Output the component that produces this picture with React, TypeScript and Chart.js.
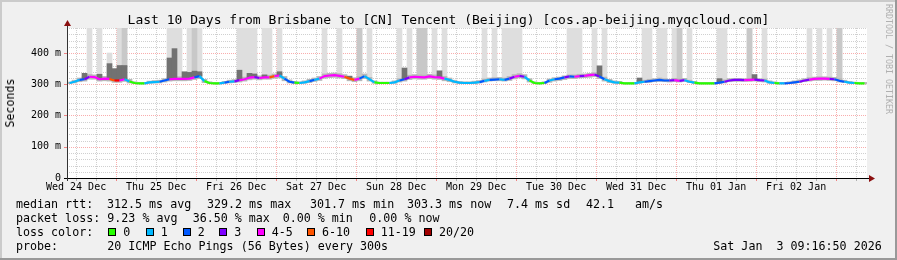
import React, { useEffect, useRef } from "react";
import { Chart, registerables } from "chart.js";

Chart.register(...registerables);

// ---------- text ----------
const TITLE = "Last 10 Days from Brisbane to [CN] Tencent (Beijing) [cos.ap-beijing.myqcloud.com]";
const Y_AXIS_TITLE = "Seconds";
const WATERMARK = "RRDTOOL / TOBI OETIKER";
const DAY_LABELS = ["Wed 24 Dec", "Thu 25 Dec", "Fri 26 Dec", "Sat 27 Dec", "Sun 28 Dec", "Mon 29 Dec", "Tue 30 Dec", "Wed 31 Dec", "Thu 01 Jan", "Fri 02 Jan"];
const Y_TICKS = [0, 100, 200, 300, 400];
const Y_TICK_LABELS = ["0", "100 m", "200 m", "300 m", "400 m"];
const RTT_TEXT = ["median rtt:", "312.5 ms avg", "329.2 ms max", "301.7 ms min", "303.3 ms now", "7.4 ms sd", "42.1", "am/s"];
const LOSS_TEXT = ["packet loss:", "9.23 % avg", "36.50 % max", "0.00 % min", "0.00 % now"];
const LOSS_COLOR_TITLE = "loss color:";
const LOSS_LABELS = ["0", "1", "2", "3", "4-5", "6-10", "11-19", "20/20"];
const LOSS_COLORS = ["#26ff00", "#00b8ff", "#0059ff", "#7e00ff", "#ff00ff", "#ff5500", "#ff0000", "#a10000"];
const PROBE_TEXT = ["probe:", "20 ICMP Echo Pings (56 Bytes) every 300s"];
const DATE_TEXT = "Sat Jan  3 09:16:50 2026";

// ---------- time axis (hours from Wed 24 Dec 09:16:50) ----------
const SPAN_HOURS = 240;
const BIN_HOURS = 1.5;
const FIRST_NOON_HOURS = 2 + 43 / 60 + 10 / 3600;
const Y_MAX = 480;
const Y_GRID_STEP = 20;

// ---------- series (ms), one value per 1.5 h bin ----------
const MEDIAN = [
  304, 308, 314, 316, 324, 323, 316, 318, 317, 312,
  312, 316, 309, 304, 303, 303, 306, 307, 308, 312,
  316, 317, 317, 317, 318, 322, 326, 310, 304, 303,
  303, 305, 308, 309, 313, 316, 321, 323, 320, 322,
  322, 326, 328, 318, 308, 305, 304, 306, 310, 314,
  318, 326, 328, 329, 327, 324, 318, 314, 318, 326,
  316, 306, 304, 304, 304, 306, 312, 316, 322, 324,
  323, 322, 325, 323, 322, 318, 314, 308, 305, 304,
  304, 305, 307, 311, 314, 315, 316, 314, 318, 324,
  327, 324, 312, 304, 303, 304, 312, 316, 318, 322,
  325, 324, 326, 327, 329, 331, 325, 316, 310, 306,
  305, 303, 303, 303, 306, 308, 310, 312, 314, 312,
  312, 313, 311, 313, 308, 305, 303, 303, 303, 303,
  305, 308, 312, 314, 314, 313, 314, 315, 313, 312,
  306, 304, 303, 303, 304, 306, 308, 312, 315, 317,
  318, 318, 317, 316, 311, 308, 305, 304, 303, 303,
];

const LOSS = [
  0, 1, 1, 2, 3, 4, 4, 4, 4, 5,
  6, 4, 1, 0, 0, 0, 1, 1, 1, 2,
  2, 4, 4, 4, 4, 4, 2, 1, 0, 0,
  0, 1, 2, 1, 3, 4, 4, 4, 3, 4,
  4, 5, 4, 1, 2, 2, 0, 1, 1, 2,
  1, 4, 4, 4, 4, 4, 5, 5, 4, 2,
  1, 1, 0, 0, 0, 1, 1, 2, 3, 4,
  4, 4, 4, 4, 4, 4, 1, 1, 1, 1,
  1, 1, 1, 2, 1, 2, 2, 1, 2, 3,
  4, 3, 1, 0, 0, 0, 2, 1, 2, 2,
  3, 2, 4, 3, 4, 4, 3, 2, 1, 1,
  1, 0, 0, 0, 1, 1, 2, 2, 2, 2,
  2, 3, 4, 3, 1, 1, 0, 0, 0, 0,
  2, 2, 3, 3, 3, 3, 4, 4, 3, 3,
  1, 1, 0, 1, 2, 2, 2, 3, 3, 4,
  4, 4, 4, 3, 2, 2, 1, 1, 0, 0,
];

const SMOKE_LOW = [
  302, 304, 308, 310, 316, 316, 310, 311, 310, 306,
  306, 309, 304, 302, 301, 301, 303, 304, 304, 307,
  310, 311, 311, 311, 312, 315, 318, 305, 302, 301,
  301, 303, 304, 305, 307, 310, 314, 316, 314, 316,
  316, 319, 320, 311, 304, 302, 302, 303, 305, 309,
  312, 319, 321, 322, 320, 318, 311, 308, 311, 318,
  310, 303, 302, 302, 302, 303, 307, 310, 315, 317,
  316, 316, 318, 316, 315, 311, 308, 304, 302, 302,
  302, 302, 304, 307, 310, 311, 311, 310, 312, 317,
  320, 317, 307, 302, 301, 302, 306, 310, 312, 315,
  318, 318, 320, 321, 322, 324, 318, 310, 305, 303,
  302, 301, 301, 301, 303, 305, 306, 308, 309, 308,
  307, 308, 307, 309, 305, 302, 301, 301, 301, 301,
  302, 304, 308, 309, 309, 309, 309, 310, 308, 307,
  303, 302, 301, 301, 302, 303, 305, 308, 310, 312,
  312, 313, 312, 311, 307, 305, 303, 302, 301, 301,
];

const SMOKE_HIGH = [
  307, 313, 320, 324, 331, 330, 324, 325, 324, 320,
  320, 323, 316, 308, 306, 306, 310, 312, 313, 318,
  323, 324, 324, 324, 325, 329, 333, 316, 308, 306,
  306, 309, 313, 315, 320, 323, 328, 330, 327, 329,
  329, 333, 335, 325, 314, 309, 308, 311, 316, 320,
  325, 333, 335, 336, 334, 331, 325, 321, 325, 333,
  322, 311, 307, 307, 307, 311, 318, 323, 329, 331,
  330, 329, 332, 330, 329, 325, 320, 313, 309, 308,
  308, 310, 312, 317, 320, 321, 322, 320, 325, 331,
  334, 331, 318, 308, 306, 308, 317, 321, 323, 327,
  330, 330, 332, 333, 335, 337, 332, 323, 316, 311,
  309, 306, 306, 306, 310, 313, 316, 318, 320, 318,
  316, 319, 317, 319, 313, 309, 306, 306, 306, 306,
  310, 314, 318, 319, 319, 318, 319, 320, 318, 317,
  311, 308, 306, 306, 308, 311, 314, 318, 321, 323,
  324, 324, 323, 322, 318, 313, 309, 307, 306, 306,
];

// [bin, top ms]
const DARK_SPIKES = [
  [3, 335], [6, 332], [8, 366], [9, 350], [10, 360], [11, 360], [20, 384], [21, 414],
  [23, 340], [24, 338], [25, 342], [26, 340], [34, 345], [36, 335], [37, 333], [39, 330],
  [42, 340], [56, 326], [67, 352], [74, 343], [106, 359], [114, 320], [130, 318], [137, 331],
];
const MID_COLUMNS = [
  [11, 500], [25, 500], [58, 500], [70, 500], [71, 500], [122, 500], [136, 500], [154, 500],
];
const LIGHT_COLUMNS = [
  [4, 500], [6, 500], [8, 400], [10, 500], [11, 500], [20, 500], [21, 500], [22, 500],
  [24, 500], [25, 500], [26, 500], [34, 500], [35, 500], [36, 500], [37, 500], [39, 500],
  [40, 500], [42, 500], [51, 500], [54, 500], [58, 500], [60, 500], [66, 500], [68, 500],
  [70, 500], [71, 500], [73, 500], [75, 500], [83, 500], [85, 500], [87, 500], [88, 500],
  [89, 500], [90, 500], [100, 500], [101, 500], [102, 500], [105, 500], [107, 500], [115, 500],
  [116, 500], [118, 500], [119, 500], [121, 500], [122, 500], [124, 500], [130, 500], [131, 500],
  [136, 500], [139, 500], [148, 500], [150, 500], [152, 500], [154, 500],
];

const FONT = '"DejaVu Sans Mono", monospace';

export default function App() {
  const ref = useRef<HTMLCanvasElement>(null);

  useEffect(() => {
    const canvas = ref.current;
    if (!canvas) return;
    const centers = MEDIAN.map((_, i) => (i + 0.5) * BIN_HOURS);
    const columns = (list: number[][]) => list.map(([b, top]) => ({ x: centers[b], y: [MEDIAN[b], top] }));
    const barCommon = { grouped: false, barPercentage: 1, categoryPercentage: 1, borderWidth: 0 };
    const MAJOR = "rgba(240,60,60,0.42)";
    const MINOR = "#d0d0d0";

    const rrdPlugin = {
      id: "rrd",
      beforeDraw(chart: any) {
        const { ctx, chartArea: a } = chart;
        ctx.save();
        ctx.fillStyle = "#ffffff";
        ctx.fillRect(a.left, a.top, a.right - a.left, a.bottom - a.top);
        ctx.restore();
      },
      beforeDatasetsDraw(chart: any) {
        const { ctx, chartArea: a, scales } = chart;
        const xs = scales.x, ys = scales.y;
        ctx.save();
        ctx.lineWidth = 1;
        ctx.setLineDash([1, 1]);
        for (let v = Y_GRID_STEP; v <= Y_MAX; v += Y_GRID_STEP) {
          const py = Math.round(ys.getPixelForValue(v)) + 0.5;
          ctx.strokeStyle = v % 100 === 0 ? MAJOR : MINOR;
          ctx.beginPath();
          ctx.moveTo(a.left, py);
          ctx.lineTo(a.right, py);
          ctx.stroke();
        }
        xs.ticks.forEach((t: any, k: number) => {
          const px = Math.round(xs.getPixelForValue(t.value)) + 0.5;
          ctx.strokeStyle = k % 4 === 2 ? MAJOR : MINOR;
          ctx.beginPath();
          ctx.moveTo(px, a.top);
          ctx.lineTo(px, a.bottom);
          ctx.stroke();
        });
        ctx.restore();
      },
      afterDatasetsDraw(chart: any) {
        const { ctx, chartArea: a, scales } = chart;
        const xs = scales.x, ys = scales.y;
        ctx.save();
        ctx.setLineDash([]);
        ctx.lineWidth = 1;
        xs.ticks.forEach((t: any, k: number) => {
          const px = Math.round(xs.getPixelForValue(t.value)) + 0.5;
          ctx.strokeStyle = k % 4 === 2 ? "rgba(240,60,60,0.6)" : "#b0b0b0";
          ctx.beginPath();
          ctx.moveTo(px, a.bottom);
          ctx.lineTo(px, a.bottom + 3);
          ctx.stroke();
        });
        Y_TICKS.forEach((v) => {
          const py = Math.round(ys.getPixelForValue(v)) + 0.5;
          ctx.strokeStyle = v === 0 ? "#000000" : "rgba(240,60,60,0.6)";
          ctx.beginPath();
          ctx.moveTo(a.left - 3, py);
          ctx.lineTo(a.left, py);
          ctx.stroke();
        });
        const ay = Math.round(a.bottom) + 0.5;
        const ax = Math.round(a.left) + 0.5;
        ctx.strokeStyle = "#000000";
        ctx.beginPath();
        ctx.moveTo(a.left - 3, ay);
        ctx.lineTo(a.right + 3, ay);
        ctx.stroke();
        ctx.strokeStyle = "#333333";
        ctx.beginPath();
        ctx.moveTo(ax, a.bottom + 3);
        ctx.lineTo(ax, a.top - 3);
        ctx.stroke();
        ctx.fillStyle = "#8b1010";
        ctx.beginPath();
        ctx.moveTo(a.right + 2, ay - 3.5);
        ctx.lineTo(a.right + 8, ay);
        ctx.lineTo(a.right + 2, ay + 3.5);
        ctx.closePath();
        ctx.fill();
        ctx.beginPath();
        ctx.moveTo(ax - 3.5, a.top - 2);
        ctx.lineTo(ax, a.top - 8);
        ctx.lineTo(ax + 3.5, a.top - 2);
        ctx.closePath();
        ctx.fill();
        ctx.restore();
      },
    };

    const chart = new Chart(canvas, {
      type: "bar",
      data: {
        datasets: [
          {
            type: "line",
            label: "median",
            data: MEDIAN.map((v, i) => ({ x: centers[i], y: v })),
            borderColor: LOSS_COLORS[0],
            borderWidth: 2.2,
            borderJoinStyle: "round",
            pointRadius: 0,
            tension: 0,
            order: 0,
            segment: { borderColor: (c: any) => LOSS_COLORS[LOSS[c.p1DataIndex]] },
          } as any,
          { type: "bar", label: "dark", data: columns(DARK_SPIKES), backgroundColor: "#727272", order: 1, ...barCommon } as any,
          {
            type: "bar",
            label: "smoke",
            data: MEDIAN.map((_, i) => ({ x: centers[i], y: [SMOKE_LOW[i], SMOKE_HIGH[i]] })),
            backgroundColor: "#b8b8b8",
            order: 2,
            ...barCommon,
          } as any,
          { type: "bar", label: "mid", data: columns(MID_COLUMNS), backgroundColor: "#c8c8c8", order: 3, ...barCommon } as any,
          { type: "bar", label: "light", data: columns(LIGHT_COLUMNS), backgroundColor: "#dedede", order: 4, ...barCommon } as any,
        ],
      },
      options: {
        animation: false,
        responsive: false,
        events: [],
        layout: { padding: { left: 0, right: 30, top: 28, bottom: 62 } },
        plugins: { legend: { display: false }, tooltip: { enabled: false }, title: { display: false } },
        scales: {
          x: {
            type: "linear",
            min: 0,
            max: SPAN_HOURS,
            offset: false,
            grid: { display: false, drawTicks: false },
            border: { display: false },
            afterBuildTicks: (s: any) => {
              const t = [];
              for (let h = FIRST_NOON_HOURS; h <= SPAN_HOURS; h += 6) t.push({ value: h });
              s.ticks = t;
            },
            afterFit: (s: any) => {
              s.height = 20;
            },
            ticks: {
              autoSkip: false,
              maxRotation: 0,
              minRotation: 0,
              padding: 3.7,
              color: "#000000",
              font: { family: FONT, size: 10 },
              callback: (_v: any, i: number) => (i % 4 === 0 ? DAY_LABELS[i / 4] : ""),
            },
          },
          y: {
            type: "linear",
            min: 0,
            max: Y_MAX,
            grid: { display: false, drawTicks: false },
            border: { display: false },
            afterBuildTicks: (s: any) => {
              s.ticks = Y_TICKS.map((v) => ({ value: v }));
            },
            afterFit: (s: any) => {
              s.width = 67;
            },
            ticks: {
              padding: 6,
              color: "#000000",
              font: { family: FONT, size: 10 },
              callback: (_v: any, i: number) => Y_TICK_LABELS[i],
            },
          },
        },
      } as any,
      plugins: [rrdPlugin],
    });
    return () => chart.destroy();
  }, []);

  const rowTops = [197, 211, 225, 239];
  const rttX = [16, 107, 207, 310, 407, 507, 586, 635];
  const lossX = [16, 107.3, 192.7, 282.7, 369.3];
  const swatchX = [108.3, 145.7, 182.7, 219.3, 256.7, 307, 365.7, 424];
  const probeX = [16, 107.3];
  const textStyle = (left: number, top: number): React.CSSProperties => ({
    position: "absolute",
    left,
    top,
    fontSize: 11.67,
    lineHeight: "14px",
    whiteSpace: "pre",
  });

  return (
    <div
      style={{
        position: "fixed",
        left: 0,
        top: 0,
        width: 897,
        height: 260,
        background: "#f0f0f0",
        overflow: "hidden",
        fontFamily: FONT,
        color: "#000",
      }}
    >
      <div style={{ position: "absolute", left: 0, top: 0, width: 897, height: 2, background: "#cbcbcb" }} />
      <div style={{ position: "absolute", left: 0, top: 0, width: 2, height: 260, background: "#cbcbcb" }} />
      <div style={{ position: "absolute", left: 0, top: 258, width: 897, height: 2, background: "#999999" }} />
      <div style={{ position: "absolute", left: 895, top: 0, width: 2, height: 260, background: "#999999" }} />
      <canvas ref={ref} width={897} height={260} style={{ position: "absolute", left: 0, top: 0, width: 897, height: 260 }} />
      <div style={{ position: "absolute", left: 0, top: 12, width: 897, textAlign: "center", fontSize: 13, lineHeight: "15px", whiteSpace: "pre" }}>
        {TITLE}
      </div>
      <div
        style={{
          position: "absolute",
          left: 10,
          top: 103,
          fontSize: 11.67,
          lineHeight: "14px",
          whiteSpace: "pre",
          transform: "translate(-50%, -50%) rotate(-90deg)",
        }}
      >
        {Y_AXIS_TITLE}
      </div>
      <div
        style={{
          position: "absolute",
          left: 884,
          top: 4,
          writingMode: "vertical-rl",
          fontSize: 8.3,
          lineHeight: "9px",
          color: "#b0b0b0",
          whiteSpace: "pre",
        }}
      >
        {WATERMARK}
      </div>
      {RTT_TEXT.map((t, i) => (
        <div key={"r" + i} style={textStyle(rttX[i], rowTops[0])}>{t}</div>
      ))}
      {LOSS_TEXT.map((t, i) => (
        <div key={"l" + i} style={textStyle(lossX[i], rowTops[1])}>{t}</div>
      ))}
      <div style={textStyle(16, rowTops[2])}>{LOSS_COLOR_TITLE}</div>
      {LOSS_LABELS.map((t, i) => (
        <React.Fragment key={"c" + i}>
          <div
            style={{
              position: "absolute",
              left: swatchX[i],
              top: 228,
              width: 8,
              height: 8,
              boxSizing: "border-box",
              border: "1px solid #000",
              background: LOSS_COLORS[i],
            }}
          />
          <div style={textStyle(swatchX[i] + 15, rowTops[2])}>{t}</div>
        </React.Fragment>
      ))}
      {PROBE_TEXT.map((t, i) => (
        <div key={"p" + i} style={textStyle(probeX[i], rowTops[3])}>{t}</div>
      ))}
      <div style={textStyle(713.3, rowTops[3])}>{DATE_TEXT}</div>
    </div>
  );
}
